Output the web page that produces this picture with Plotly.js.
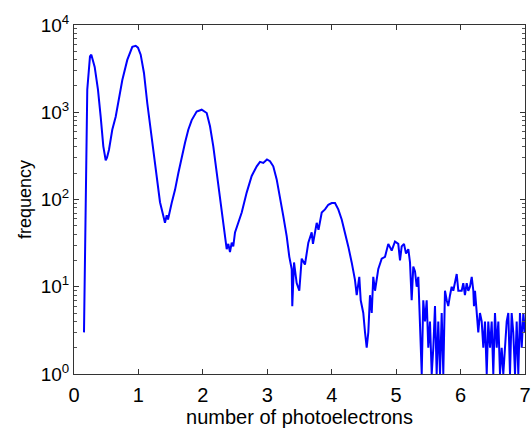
<!DOCTYPE html>
<html>
<head>
<meta charset="utf-8">
<script src="https://cdn.plot.ly/plotly-3.0.1.min.js"></script>
<style>html,body{margin:0;padding:0;background:#fff;}#chart{width:531px;height:431px;}</style>
</head>
<body>
<div id="chart"></div>
<script>
// number of photoelectrons (x) and frequency counts (y)
var photoelectrons = [
  0.155, 0.180, 0.206, 0.248, 0.269, 0.321, 0.372, 0.414, 0.455, 0.492, 0.512, 0.543, 0.594, 0.647, 0.698,
  0.750, 0.827, 0.905, 0.958, 0.993, 1.035, 1.086, 1.138, 1.190, 1.242, 1.293, 1.335, 1.386, 1.412, 1.439,
  1.459, 1.516, 1.568, 1.619, 1.672, 1.723, 1.774, 1.827, 1.904, 1.982, 2.060, 2.111, 2.162, 2.215, 2.266,
  2.317, 2.370, 2.395, 2.421, 2.448, 2.472, 2.499, 2.550, 2.603, 2.680, 2.758, 2.836, 2.887, 2.938, 2.995,
  3.042, 3.093, 3.146, 3.197, 3.248, 3.301, 3.342, 3.379, 3.388, 3.415, 3.456, 3.497, 3.534, 3.585, 3.637,
  3.689, 3.709, 3.767, 3.795, 3.845, 3.896, 3.947, 4.000, 4.051, 4.102, 4.155, 4.206, 4.257, 4.310, 4.361,
  4.388, 4.428, 4.450, 4.490, 4.517, 4.543, 4.568, 4.594, 4.621, 4.645, 4.672, 4.723, 4.776, 4.827, 4.878,
  4.931, 4.982, 5.033, 5.060, 5.086, 5.122, 5.153, 5.189, 5.215, 5.241, 5.266, 5.293, 5.319, 5.344, 5.370,
  5.397, 5.421, 5.448, 5.474, 5.499, 5.525, 5.552, 5.577, 5.603, 5.629, 5.654, 5.681, 5.707, 5.732, 5.758,
  5.785, 5.809, 5.836, 5.862, 5.887, 5.913, 5.940, 5.965, 5.991, 6.017, 6.042, 6.068, 6.095, 6.120, 6.146,
  6.173, 6.198, 6.208, 6.224, 6.250, 6.275, 6.301, 6.328, 6.353, 6.379, 6.406, 6.430, 6.457, 6.483, 6.508,
  6.534, 6.561, 6.586, 6.612, 6.638, 6.663, 6.689, 6.716, 6.741, 6.767, 6.793, 6.818, 6.845, 6.871, 6.896,
  6.922, 6.949, 6.974, 7.000
];
var frequency = [
  3, 110, 1820, 4360, 4570, 3310, 1820, 890, 407, 282, 302, 372, 630, 890, 1380,
  2340, 3980, 5630, 5780, 5500, 4570, 2820, 1260, 630, 288, 155, 93, 65, 54, 66,
  59, 91, 129, 200, 310, 447, 630, 813, 1020, 1070, 980, 690, 407, 204, 100,
  54, 27, 31, 25, 32, 29, 42, 54, 71, 120, 186, 240, 270, 263, 288,
  275, 240, 170, 110, 65, 38, 22, 16, 6, 19, 11, 9, 21, 18, 32,
  42, 31, 54, 45, 71, 77, 87, 91, 91, 77, 59, 42, 29, 19, 12,
  8, 13, 7, 5, 3, 2, 3, 8, 5, 13, 9, 16, 21, 22, 31,
  26, 33, 31, 20, 29, 31, 24, 27, 19, 7, 17, 15, 10, 13, 4,
  1, 7, 4, 7, 2, 4, 1, 2, 6, 1, 4, 1, 5, 1, 9,
  7, 6, 8, 10, 9, 11, 14, 9, 9, 9, 11, 8, 11, 9, 10,
  13, 9, 6, 9, 5, 3, 5, 4, 2, 4, 1, 4, 2, 4, 1,
  5, 2, 4, 1, 2, 1, 2, 4, 5, 1, 5, 3, 1, 4, 1,
  5, 2, 5, 3
];
var xTickVals = [0, 1, 2, 3, 4, 5, 6, 7];
var yTickVals = [1, 10, 100, 1000, 10000];
var yTickText = ['10<sup>0</sup>', '10<sup>1</sup>', '10<sup>2</sup>', '10<sup>3</sup>', '10<sup>4</sup>'];
var yMinorVals = [];
[1, 10, 100, 1000].forEach(function (d) { for (var k = 2; k <= 9; k++) yMinorVals.push(d * k); });

var trace = {
  x: photoelectrons,
  y: frequency,
  type: 'scatter',
  mode: 'lines',
  line: { color: '#0000ff', width: 2 },
  hoverinfo: 'skip'
};

var layout = {
  width: 531,
  height: 431,
  margin: { l: 74, r: 6, t: 25, b: 57 },
  paper_bgcolor: '#ffffff',
  plot_bgcolor: '#ffffff',
  showlegend: false,
  font: { family: 'Liberation Sans, Arial, sans-serif', size: 18, color: '#000000' },
  xaxis: {
    range: [0, 7],
    tickvals: xTickVals,
    ticks: 'inside',
    ticklen: 5,
    tickcolor: '#333333',
    showline: true,
    linecolor: '#333333',
    linewidth: 1,
    mirror: 'ticks',
    showgrid: false,
    zeroline: false,
    tickfont: { size: 20 },
    ticklabelstandoff: 3,
    title: { text: 'number of photoelectrons', font: { size: 20 }, standoff: 2 }
  },
  yaxis: {
    type: 'log',
    range: [0, 4],
    tickvals: yTickVals,
    ticktext: yTickText,
    ticks: 'inside',
    ticklen: 5,
    tickcolor: '#333333',
    showline: true,
    linecolor: '#333333',
    linewidth: 1,
    mirror: 'ticks',
    showgrid: false,
    zeroline: false,
    tickfont: { size: 19 },
    minor: { tickvals: yMinorVals, ticks: 'inside', ticklen: 3, tickcolor: '#555555', showgrid: false },
    title: { text: 'frequency', font: { size: 18 }, standoff: 4 }
  }
};

Plotly.newPlot('chart', [trace], layout, { displayModeBar: false, staticPlot: true });
</script>
</body>
</html>
